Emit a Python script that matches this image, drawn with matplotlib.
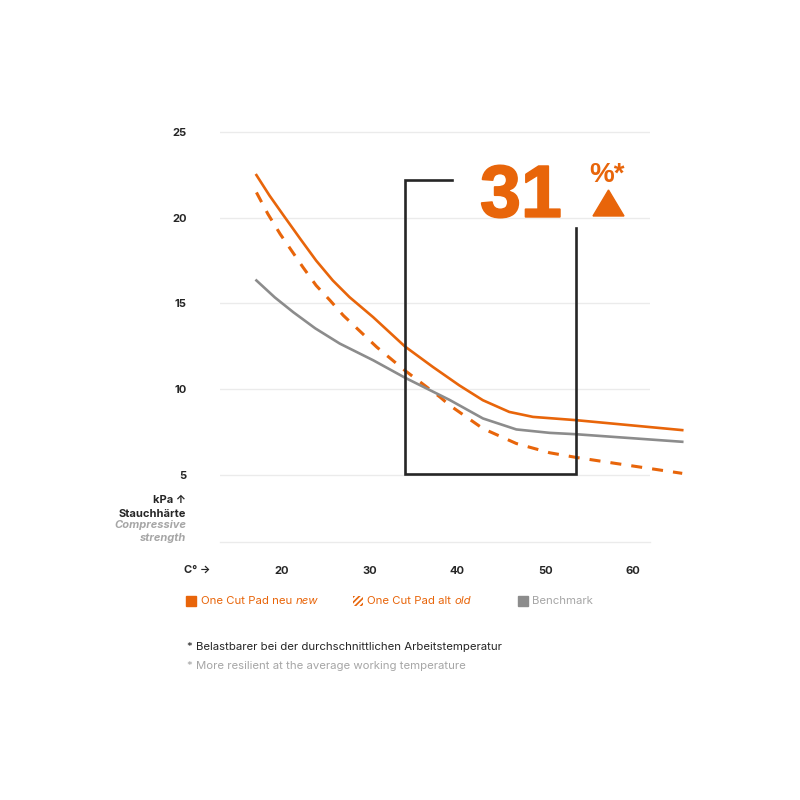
import numpy as np
import matplotlib.pyplot as plt
import matplotlib.patheffects as pe
from matplotlib.patches import Rectangle, Polygon

# colours
orange = '#E8650A'
grey = '#8C8C8C'
dark = '#262626'
light = '#A6A6A6'

# data (temperature in C, compressive strength in kPa)
x_new = [17.1, 18.6, 20.2, 22.1, 23.9, 25.8, 27.7, 30.4, 34.0, 37.2, 40.2,
         42.9, 45.9, 48.6, 53.5, 65.6]
y_new = [22.48, 21.28, 20.12, 18.76, 17.50, 16.34, 15.37, 14.20, 12.50, 11.30,
         10.23, 9.36, 8.68, 8.39, 8.20, 7.62]

x_old = [17.1, 18.4, 19.8, 21.1, 22.4, 23.9, 25.5, 27.0, 30.8, 34.0, 38.0,
         39.1, 42.9, 46.7, 50.5, 53.5, 58.0, 65.6]
y_old = [21.47, 20.22, 19.05, 18.08, 17.11, 16.05, 15.17, 14.30, 12.46, 11.10,
         9.55, 9.07, 7.71, 6.84, 6.30, 6.03, 5.68, 5.10]

x_bench = [17.1, 19.2, 21.3, 23.8, 26.6, 30.4, 34.0, 39.1, 42.9, 46.7, 50.5, 53.5, 65.6]
y_bench = [16.34, 15.35, 14.49, 13.55, 12.66, 11.69, 10.68, 9.38, 8.30, 7.66, 7.46,
           7.38, 6.94]

xticks = [20, 30, 40, 50, 60]
yticks = [5, 10, 15, 20, 25]

# bracket around the working temperature range
brk_x = [39.4, 34.0, 34.0, 53.5, 53.5]
brk_y = [22.2, 22.2, 5.06, 5.06, 19.4]

plt.rcParams['font.family'] = ['Inter', 'DejaVu Sans']
plt.rcParams['hatch.color'] = orange
plt.rcParams['hatch.linewidth'] = 1.2

fig = plt.figure(figsize=(8, 8), dpi=100)
ax = fig.add_axes([0.275, 0.3225, 0.5375, 0.51375])
ax.set_xlim(12.95, 61.93)
ax.set_ylim(1.1, 25.05)

for s in ['top', 'right', 'left']:
    ax.spines[s].set_visible(False)
ax.spines['bottom'].set_color('#ebebeb')
ax.spines['bottom'].set_linewidth(1)

ax.set_yticks(yticks, [str(v) for v in yticks])
ax.set_xticks(xticks, [str(v) for v in xticks])
ax.tick_params(length=0, labelsize=8, labelcolor=dark)
ax.tick_params(axis='y', pad=24)
ax.tick_params(axis='x', pad=17)
for lab in ax.get_xticklabels() + ax.get_yticklabels():
    lab.set_fontweight('bold')
ax.yaxis.grid(True, color='#ebebeb', lw=1)

ax.plot(x_new, y_new, color=orange, lw=1.9, clip_on=False)
ax.plot(x_old, y_old, color=orange, lw=2.2, ls=(0, (3.6, 3.3)), clip_on=False)
ax.plot(x_bench, y_bench, color=grey, lw=1.9, clip_on=False)
ax.plot(brk_x, brk_y, color=dark, lw=1.9, clip_on=False, solid_joinstyle='miter')

# big annotation
fig.text(0.600, 0.729, '31', color=orange, fontsize=53, fontweight='bold',
         family='Liberation Sans', ha='left', va='baseline',
         path_effects=[pe.withStroke(linewidth=1.3, foreground=orange)])
fig.text(0.736, 0.7725, '%*', color=orange, fontsize=20, fontweight='bold',
         family='Liberation Sans', ha='left', va='baseline')
fig.patches.append(Polygon([(593 / 800, 1 - 216 / 800), (624 / 800, 1 - 216 / 800),
                            (608.5 / 800, 1 - 190 / 800)],
                           closed=True, color=orange, transform=fig.transFigure))

# axis captions
fig.text(0.2325, 0.375, 'kPa \u2191', fontsize=8, fontweight='bold', color=dark,
         ha='right', va='center')
fig.text(0.2325, 0.3575, 'Stauchhärte', fontsize=8, fontweight='bold', color=dark,
         ha='right', va='center')
fig.text(0.2325, 0.3435, 'Compressive', fontsize=8, fontweight='bold', style='italic',
         color=light, ha='right', va='center')
fig.text(0.2325, 0.3275, 'strength', fontsize=8, fontweight='bold', style='italic',
         color=light, ha='right', va='center')
fig.text(0.2625, 0.2875, 'C\u00b0 \u2192', fontsize=8, fontweight='bold', color=dark,
         ha='right', va='center')

# legend
ly = 1 - 601 / 800
sq = 10 / 800
fig.patches.append(Rectangle((186 / 800, ly - sq / 2), sq, sq, color=orange,
                             transform=fig.transFigure))
t1 = fig.text(201 / 800, ly, 'One Cut Pad neu ', fontsize=8.2, color=orange, va='center')
ax.annotate('new', xy=(1, 0), xycoords=t1, fontsize=8.2, color=orange,
            style='italic', va='bottom', ha='left', annotation_clip=False)

fig.patches.append(Rectangle((353 / 800, ly - sq / 2), sq, sq, facecolor='white',
                             edgecolor=orange, hatch='//////', lw=0,
                             transform=fig.transFigure))
t2 = fig.text(367 / 800, ly, 'One Cut Pad alt ', fontsize=8.2, color=orange, va='center')
ax.annotate('old', xy=(1, 0), xycoords=t2, fontsize=8.2, color=orange,
            style='italic', va='bottom', ha='left', annotation_clip=False)

fig.patches.append(Rectangle((518 / 800, ly - sq / 2), sq, sq, color=grey,
                             transform=fig.transFigure))
fig.text(532 / 800, ly, 'Benchmark', fontsize=8.2, color=light, va='center')

# footnotes
fig.text(187 / 800, 1 - 647 / 800, '* Belastbarer bei der durchschnittlichen Arbeitstemperatur',
         fontsize=8.2, color=dark, va='center')
fig.text(187 / 800, 1 - 666 / 800, '* More resilient at the average working temperature',
         fontsize=8.2, color=light, va='center')

fig.savefig('out.png', dpi=100)
